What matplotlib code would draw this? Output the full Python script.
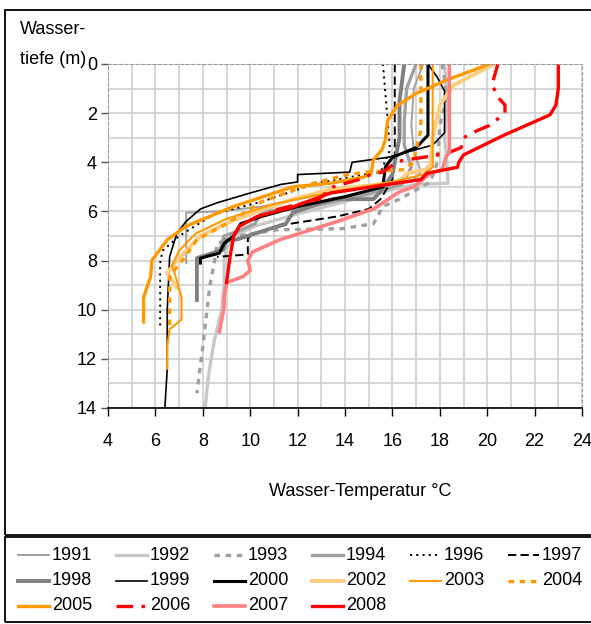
import matplotlib
matplotlib.use("Agg")
from matplotlib import pyplot as plt
from matplotlib import font_manager
from matplotlib.lines import Line2D
from matplotlib.patches import Rectangle
from matplotlib.ticker import MultipleLocator

# Pick a narrow sans font if there is one
try:
    font_manager.findfont('Liberation Sans Narrow', fallback_to_default=False)
    FONT, FS = 'Liberation Sans Narrow', 14
except ValueError:
    FONT, FS = 'Liberation Sans', 13
plt.rcParams['font.family'] = [FONT, 'DejaVu Sans']
plt.rcParams['lines.scale_dashes'] = False

# Temperature profiles (temperature in deg C, depth in m) per year
t1991 = [17.3, 16.9, 16.8, 16.9, 17.2, 16.8, 15.0, 12.5, 10.5, 8.7, 7.3, 7.3]
d1991 = [0, 1.0, 2.5, 3.5, 4.4, 4.8, 5.0, 5.4, 5.8, 6.0, 6.05, 8.1]

t1992 = [18.2, 18.3, 18.2, 18.3, 18.35, 17.0, 16.0, 14.0, 12.0, 10.2, 9.3, 9.0, 8.9, 8.9, 8.8, 8.5, 8.3, 8.2, 8.1]
d1992 = [0, 1.5, 3.0, 4.0, 4.85, 4.9, 5.1, 5.6, 6.1, 6.6, 7.0, 7.5, 8.0, 8.9, 10.0, 11.2, 12.3, 13.0, 14.0]

t1993 = [18.1, 18.3, 18.0, 17.9, 17.6, 16.3, 15.6, 15.2, 13.9, 11.1, 9.5, 8.6, 8.5, 8.4, 8.3, 8.0, 7.75]
d1993 = [0, 1.3, 2.5, 4.0, 4.8, 5.5, 5.8, 6.5, 6.7, 6.75, 7.0, 7.3, 8.0, 8.5, 9.0, 11.5, 13.4]

t1994 = [17.0, 16.6, 16.5, 16.5, 16.8, 16.4, 14.5, 12.0, 10.5, 10.2, 9.5, 8.9, 8.7]
d1994 = [0, 1.0, 2.3, 3.3, 4.2, 4.9, 5.4, 5.9, 6.0, 6.5, 6.8, 7.0, 7.6]

t1996 = [15.6, 15.8, 15.9, 15.5, 14.8, 12.8, 10.5, 8.5, 7.0, 6.3, 6.2, 6.2]
d1996 = [0, 2.3, 3.5, 4.4, 4.5, 4.85, 5.6, 6.1, 7.0, 7.6, 8.1, 10.7]

t1997 = [16.1, 16.1, 16.0, 15.5, 15.0, 13.7, 11.7, 10.1, 9.9, 9.9, 8.6]
d1997 = [0, 4.0, 4.7, 5.5, 5.9, 6.2, 6.5, 6.9, 7.1, 7.75, 7.85]

t1998 = [16.5, 16.3, 16.3, 16.0, 15.5, 15.2, 13.5, 11.8, 11.5, 9.4, 9.0, 8.85, 7.75, 7.75]
d1998 = [0, 1.5, 3.0, 4.5, 5.2, 5.5, 5.5, 6.05, 6.5, 7.15, 7.15, 7.56, 7.9, 9.6]

t1999 = [17.5, 17.9, 18.2, 18.2, 17.7, 15.8, 14.3, 14.2, 12.0, 12.0, 11.3, 10.0, 8.6, 7.9, 7.3, 6.9, 6.6, 6.5, 6.5, 6.4]
d1999 = [0, 0.55, 1.1, 2.8, 3.3, 3.8, 4.0, 4.4, 4.5, 4.8, 4.9, 5.25, 5.65, 5.9, 6.4, 6.9, 7.85, 10.0, 12.4, 14.0]

t2000 = [17.5, 17.5, 17.0, 16.0, 15.7, 15.6, 14.0, 12.0, 10.5, 9.6, 9.3, 8.9, 8.7, 7.9, 7.9]
d2000 = [0, 2.9, 3.4, 3.8, 4.2, 5.0, 5.4, 5.8, 6.2, 6.5, 7.0, 7.3, 7.7, 7.9, 8.1]

t2002 = [20.3, 18.6, 18.0, 17.7, 17.6, 17.4, 16.6, 16.4, 16.0, 13.4, 11.8, 9.3, 7.9, 6.9, 6.5, 6.7, 6.9]
d2002 = [0, 0.85, 1.67, 3.0, 4.1, 4.3, 4.45, 4.7, 4.85, 5.1, 5.5, 6.35, 7.0, 8.0, 8.5, 8.8, 9.1]

t2003 = [17.7, 17.7, 17.3, 16.0, 13.5, 11.0, 9.0, 7.7, 7.0, 6.7, 6.9, 7.1, 7.1, 6.6, 6.5, 6.5]
d2003 = [0, 4.2, 4.5, 4.8, 5.2, 5.7, 6.3, 6.9, 7.6, 8.2, 8.8, 9.5, 10.4, 10.8, 11.5, 12.4]

t2004 = [17.2, 17.2, 17.0, 16.9, 16.5, 14.9, 14.1, 12.5, 10.5, 9.0, 7.75, 7.25, 6.6, 6.6]
d2004 = [0, 2.7, 3.5, 4.0, 4.3, 4.4, 4.5, 4.9, 5.6, 6.5, 7.15, 7.85, 8.65, 10.7]

t2005 = [20.1, 18.3, 17.0, 16.2, 15.8, 15.7, 15.55, 15.2, 15.1, 14.8, 13.4, 11.8, 9.3, 7.3, 6.5, 5.85, 5.8, 5.5, 5.5]
d2005 = [0, 0.65, 1.2, 1.7, 2.3, 3.1, 3.5, 3.9, 4.45, 4.6, 4.85, 5.0, 5.8, 6.6, 7.15, 8.0, 8.65, 9.5, 10.5]

t2006 = [20.45, 20.2, 20.5, 20.75, 20.75, 20.1, 19.6, 19.0, 18.9, 18.4, 17.3, 16.6, 16.2, 15.6, 15.2, 14.6, 13.5, 12.9, 11.1, 10.8]
d2006 = [0, 0.85, 1.4, 1.67, 2.0, 2.5, 2.7, 3.0, 3.4, 3.6, 3.8, 3.9, 3.97, 4.4, 4.45, 4.7, 5.0, 5.5, 5.93, 6.05]

t2007 = [18.4, 18.4, 18.25, 18.2, 18.1, 17.6, 16.9, 16.3, 15.2, 13.7, 11.25, 10.1, 9.9, 10.0, 9.7, 9.0, 8.9, 8.9, 8.7]
d2007 = [0, 3.6, 3.8, 4.0, 4.3, 4.45, 5.0, 5.2, 5.9, 6.4, 7.15, 7.65, 8.0, 8.4, 8.65, 8.9, 9.5, 9.9, 10.9]

t2008 = [23.0, 23.0, 22.9, 22.65, 20.7, 19.0, 18.8, 18.75, 17.45, 17.2, 13.4, 11.7, 10.3, 9.55, 9.3, 9.15, 9.0]
d2008 = [0, 1.0, 1.67, 2.07, 2.9, 3.7, 4.0, 4.2, 4.45, 4.7, 5.25, 5.85, 6.2, 6.6, 7.0, 7.85, 8.9]

years = ['1991', '1992', '1993', '1994', '1996', '1997',
         '1998', '1999', '2000', '2002', '2003', '2004',
         '2005', '2006', '2007', '2008']
temps = [t1991, t1992, t1993, t1994, t1996, t1997, t1998, t1999, t2000,
         t2002, t2003, t2004, t2005, t2006, t2007, t2008]
depths = [d1991, d1992, d1993, d1994, d1996, d1997, d1998, d1999, d2000,
          d2002, d2003, d2004, d2005, d2006, d2007, d2008]

# line styles: (colour, width, dash)
styles = [
    ('#A0A0A0', 1.4, '-'),
    ('#C8C8C8', 2.4, '-'),
    ('#A0A0A0', 2.4, (0, (4, 4))),
    ('#A0A0A0', 2.4, '-'),
    ('black', 1.4, (0, (1.5, 3))),
    ('black', 1.4, (0, (6, 3))),
    ('#808080', 2.8, '-'),
    ('black', 1.2, '-'),
    ('black', 2.2, '-'),
    ('#FFCC80', 2.8, '-'),
    ('#FF9900', 1.5, '-'),
    ('#FF9900', 2.4, (0, (4, 4))),
    ('#FF9900', 2.4, '-'),
    ('#FF0000', 2.4, (0, (12, 6, 2.5, 6))),
    ('#FF8080', 2.6, '-'),
    ('#FF0000', 2.4, '-'),
]

W, H = 591, 624
fig = plt.figure(figsize=(W / 100, H / 100), dpi=100)
ax = fig.add_axes([108 / W, 1 - 408 / H, (582 - 108) / W, (408 - 64) / H])

for t, d, (c, lw, ls) in zip(temps, depths, styles):
    ax.plot(t, d, color=c, lw=lw, linestyle=ls, solid_joinstyle='round')

ax.set_xlim(4, 24)
ax.set_ylim(14, 0)
ax.xaxis.set_major_locator(MultipleLocator(2))
ax.xaxis.set_minor_locator(MultipleLocator(1))
ax.yaxis.set_major_locator(MultipleLocator(2))
ax.yaxis.set_minor_locator(MultipleLocator(1))
ax.grid(which='both', color='#CCCCCC', lw=1.1)
ax.set_axisbelow(True)
ax.tick_params(which='minor', length=0)
ax.tick_params(axis='x', which='major', direction='out', length=6, width=1,
               pad=12, labelsize=FS)
ax.tick_params(axis='y', which='major', direction='out', length=5, width=1,
               color='#555555', pad=3, labelsize=FS)

for side in ['left', 'top', 'right']:
    ax.spines[side].set_color('#999999')
    ax.spines[side].set_linestyle((0, (2, 2)))
    ax.spines[side].set_linewidth(0.8)
ax.spines['bottom'].set_linewidth(1.2)

# Axis titles
fig.text(20 / W, 1 - 30 / H, 'Wasser-', fontsize=FS, va='center', ha='left')
fig.text(20 / W, 1 - 59 / H, 'tiefe (m)', fontsize=FS, va='center', ha='left')
fig.text(360 / W, 1 - 491 / H, 'Wasser-Temperatur °C', fontsize=FS,
         va='center', ha='center')

# Frames round chart and legend
fig.add_artist(Rectangle((5 / W, 1 - 535 / H), 1, 525 / H, transform=fig.transFigure,
                         fill=False, ec='black', lw=1.3))
fig.add_artist(Rectangle((5 / W, 1 - 622 / H), 1, 85 / H, transform=fig.transFigure,
                         fill=False, ec='black', lw=1.3))

# Legend drawn by hand, six per row
for i, (yr, (c, lw, ls)) in enumerate(zip(years, styles)):
    row, col = divmod(i, 6)
    x0 = 18 + col * 98
    y0 = 1 - (555 + row * 25.5) / H
    fig.add_artist(Line2D([x0 / W, (x0 + 31) / W], [y0, y0], transform=fig.transFigure,
                          color=c, lw=lw, linestyle=ls))
    fig.text((x0 + 34) / W, y0, yr, fontsize=FS, va='center', ha='left')

fig.savefig('out.png', dpi=100)
